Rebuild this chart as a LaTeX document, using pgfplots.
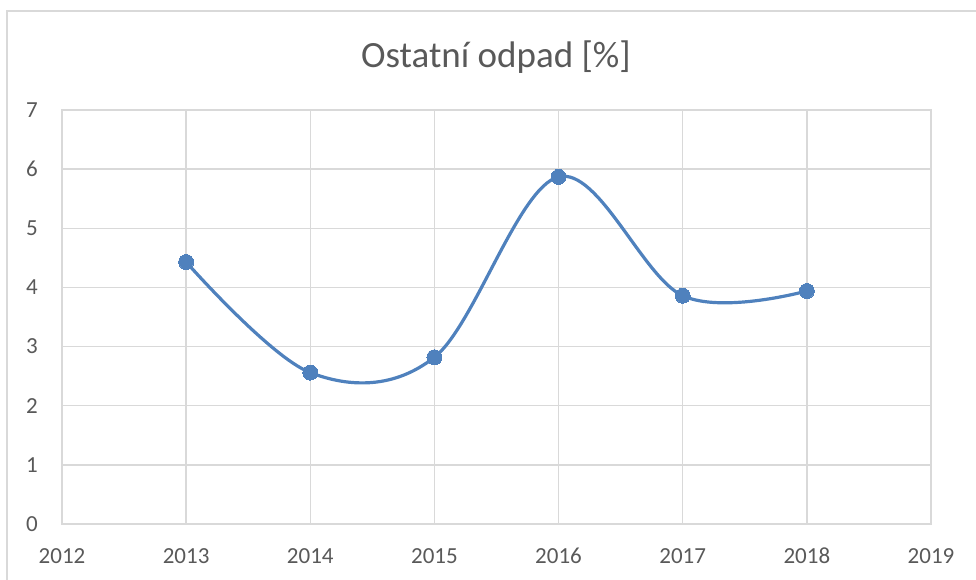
\documentclass[border=0pt]{standalone}
\usepackage{fontspec}
\setmainfont{Carlito}
\usepackage{pgfplots}
\pgfplotsset{compat=1.18}
\definecolor{gridc}{HTML}{D9D9D9}
\definecolor{txt}{HTML}{595959}
\definecolor{ser}{HTML}{4F81BD}
\begin{document}
\begin{tikzpicture}[x=1pt,y=1pt]
\useasboundingbox (-62,-55) rectangle (914,524);
\draw[gridc, line width=1.4pt] (-55,-60) -- (-55,513) -- (920,513);
\node[text=txt, font=\fontsize{37}{44}\selectfont, inner sep=0] at (434,467) {Ostatní odpad [\%]};
\begin{axis}[
  at={(0,0)}, anchor=south west, scale only axis,
  width=869pt, height=414pt,
  xmin=2012, xmax=2019, ymin=0, ymax=7,
  xtick={2012,2013,...,2019}, ytick={0,1,...,7},
  grid=major, grid style={gridc, line width=1.4pt},
  axis line style={gridc, line width=1.4pt},
  major tick length=0pt,
  /pgf/number format/assume math mode=true,
  /pgf/number format/1000 sep={},
  ticklabel style={font=\fontsize{23}{27}\selectfont, text=txt, inner sep=0pt},
  xticklabel style={anchor=north, yshift=-24pt},
  yticklabel style={anchor=east, xshift=-24pt},
  clip=false,
]
\addplot[ser, line width=3.2pt, smooth, tension=0.58, mark=*, mark size=7.5pt,
  mark options={fill=ser, draw=ser, line width=0pt}]
  coordinates {(2013,4.43) (2014,2.56) (2015,2.82) (2016,5.87) (2017,3.86) (2018,3.94)};
\end{axis}
\end{tikzpicture}
\end{document}
